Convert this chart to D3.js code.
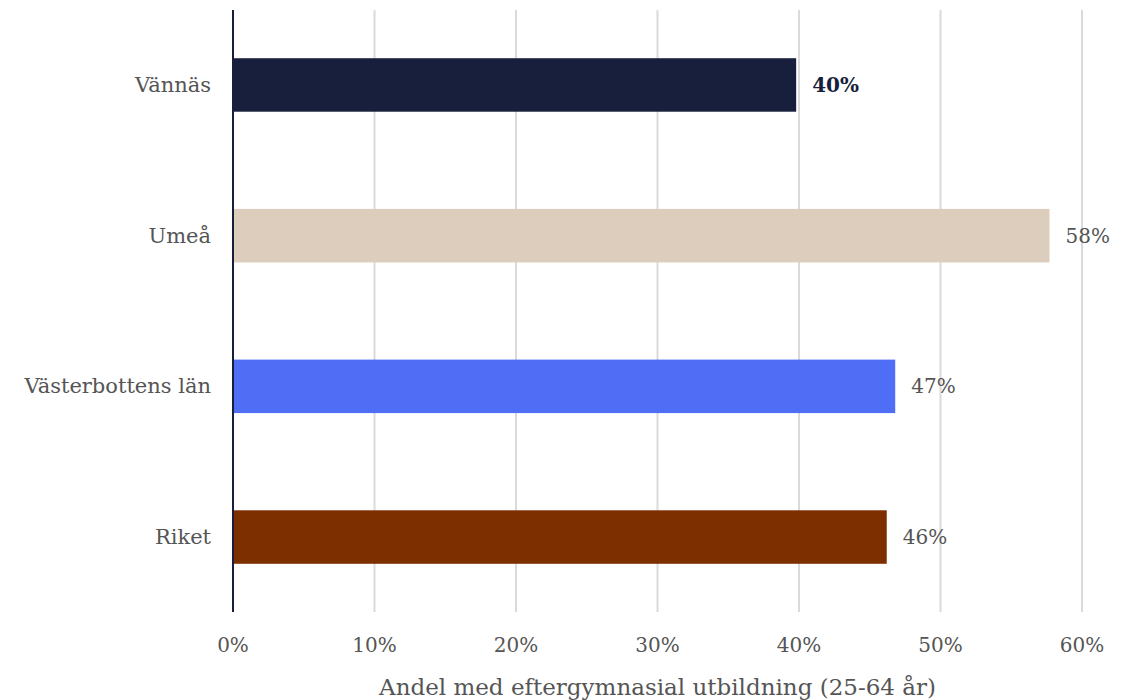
<!DOCTYPE html>
<html>
<head>
<meta charset="utf-8">
<script src="https://cdn.jsdelivr.net/npm/d3@7"></script>
<style>
  html, body { margin: 0; padding: 0; background: #fff; }
  svg text { font-family: "DejaVu Serif", serif; }
</style>
</head>
<body>
<div id="chart"></div>
<script>
// Data
const categories = ["Vännäs", "Umeå", "Västerbottens län", "Riket"];
const values = [0.398, 0.577, 0.468, 0.462];
const colors = ["#181f3d", "#dccdbd", "#4f6ef5", "#7d2f00"];
const xTicks = [0, 0.1, 0.2, 0.3, 0.4, 0.5, 0.6];
const xTitle = "Andel med eftergymnasial utbildning (25-64 år)";

const W = 1135, H = 700;
const margin = { top: 10, right: 53, bottom: 88, left: 233 };
const width = W - margin.left - margin.right;
const height = H - margin.top - margin.bottom;

const svg = d3.select("#chart").append("svg")
    .attr("width", W)
    .attr("height", H)
    .append("g")
    .attr("transform", `translate(${margin.left},${margin.top})`);

const x = d3.scaleLinear().domain([0, 0.6]).range([0, width]);
const y = d3.scaleBand().domain(categories).range([0, height]).paddingInner(0.645).paddingOuter(0.32);

// grid lines
svg.selectAll(".grid")
    .data(xTicks.slice(1))
    .enter()
    .append("line")
    .attr("x1", d => x(d))
    .attr("x2", d => x(d))
    .attr("y1", 0)
    .attr("y2", height)
    .attr("stroke", "#dadada")
    .attr("stroke-width", 2);

// bars
svg.selectAll(".bar")
    .data(categories)
    .enter()
    .append("rect")
    .attr("x", 0)
    .attr("y", d => y(d))
    .attr("width", (d, i) => x(values[i]))
    .attr("height", y.bandwidth())
    .attr("fill", (d, i) => colors[i]);

// y axis line
svg.append("line")
    .attr("x1", 0).attr("x2", 0)
    .attr("y1", 0).attr("y2", height)
    .attr("stroke", "#181f3d")
    .attr("stroke-width", 2);

// category labels
svg.selectAll(".cat")
    .data(categories)
    .enter()
    .append("text")
    .attr("x", -22)
    .attr("y", d => y(d) + y.bandwidth() / 2)
    .attr("text-anchor", "end")
    .attr("dominant-baseline", "central")
    .attr("font-size", "21px")
    .attr("fill", "#555")
    .text(d => d);

// value labels
svg.selectAll(".val")
    .data(categories)
    .enter()
    .append("text")
    .attr("x", (d, i) => x(values[i]) + 16)
    .attr("y", d => y(d) + y.bandwidth() / 2)
    .attr("dominant-baseline", "central")
    .attr("font-size", "20px")
    .attr("font-weight", (d, i) => i === 0 ? "bold" : "normal")
    .attr("fill", (d, i) => i === 0 ? "#181f3d" : "#555")
    .text((d, i) => Math.round(values[i] * 100) + "%");

// x tick labels
svg.selectAll(".tick-label")
    .data(xTicks)
    .enter()
    .append("text")
    .attr("x", d => x(d))
    .attr("y", height + 33)
    .attr("text-anchor", "middle")
    .attr("dominant-baseline", "central")
    .attr("font-size", "20px")
    .attr("fill", "#555")
    .text(d => Math.round(d * 100) + "%");

// x title
svg.append("text")
    .attr("x", width / 2)
    .attr("y", height + 75)
    .attr("text-anchor", "middle")
    .attr("dominant-baseline", "central")
    .attr("font-size", "23px")
    .attr("fill", "#555")
    .text(xTitle);
</script>
</body>
</html>
